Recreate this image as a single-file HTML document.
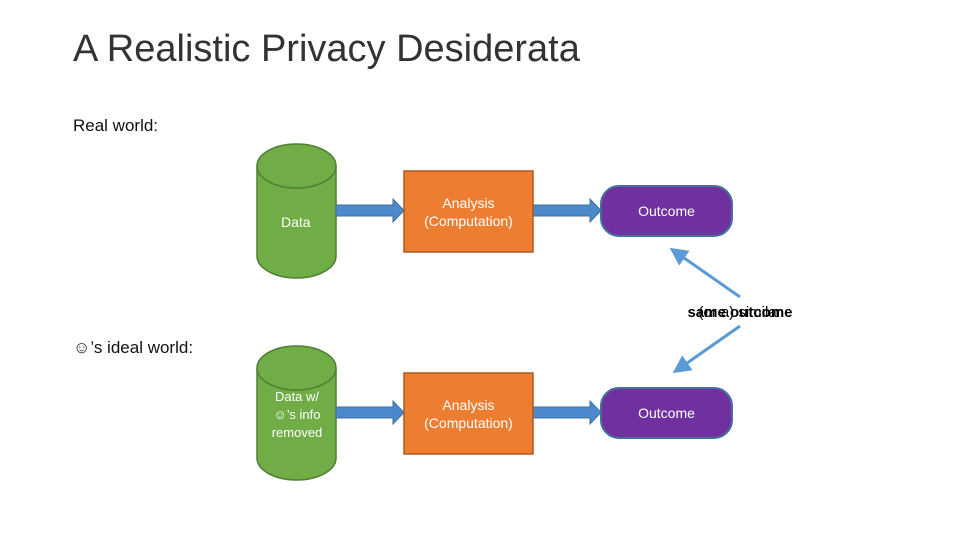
<!DOCTYPE html>
<html><head><style>
body{margin:0;width:960px;height:540px;background:#fff;overflow:hidden;position:relative;font-family:"Liberation Sans",sans-serif}
.t{position:absolute;white-space:nowrap}
</style></head><body>
<div class="t" style="left:73px;top:28px;font-size:38px;color:#333;font-weight:300">A Realistic Privacy Desiderata</div>
<div class="t" style="left:73px;top:116px;font-size:17px;color:#111">Real world:</div>
<div class="t" style="left:73px;top:338px;font-size:17px;color:#111">☺’s ideal world:</div>
<svg width="960" height="540" style="position:absolute;left:0;top:0">
<defs>
<marker id="ah" markerWidth="6" markerHeight="6" refX="3" refY="3" orient="auto"><path d="M0,0L6,3L0,6z" fill="#5B9BD5"/></marker>
</defs>
<path d="M257,166 L257,256 A39.5,22 0 0 0 336,256 L336,166" fill="#70AD47" stroke="#507E32" stroke-width="1.5"/>
<ellipse cx="296.5" cy="166" rx="39.5" ry="22" fill="#70AD47" stroke="#507E32" stroke-width="1.5"/>
<path d="M257,368 L257,458 A39.5,22 0 0 0 336,458 L336,368" fill="#70AD47" stroke="#507E32" stroke-width="1.5"/>
<ellipse cx="296.5" cy="368" rx="39.5" ry="22" fill="#70AD47" stroke="#507E32" stroke-width="1.5"/>
<path d="M336,205 L393,205 L393,199 L404,210.5 L393,222 L393,216 L336,216z" fill="#4A89CC" stroke="#41719C"/>
<path d="M533,205 L590,205 L590,199 L601,210.5 L590,222 L590,216 L533,216z" fill="#4A89CC" stroke="#41719C"/>
<path d="M336,407 L393,407 L393,401 L404,412.5 L393,424 L393,418 L336,418z" fill="#4A89CC" stroke="#41719C"/>
<path d="M533,407 L590,407 L590,401 L601,412.5 L590,424 L590,418 L533,418z" fill="#4A89CC" stroke="#41719C"/>
<rect x="404" y="171" width="129" height="81" fill="#ED7D31" stroke="#AE5A21" stroke-width="1.5"/>
<rect x="404" y="373" width="129" height="81" fill="#ED7D31" stroke="#AE5A21" stroke-width="1.5"/>
<rect x="601" y="186" width="131" height="50" rx="18" fill="#7030A0" stroke="#41719C" stroke-width="2"/>
<rect x="601" y="388" width="131" height="50" rx="18" fill="#7030A0" stroke="#41719C" stroke-width="2"/>
<line x1="740" y1="297" x2="677" y2="253" stroke="#5B9BD5" stroke-width="3" marker-end="url(#ah)"/>
<line x1="740" y1="326" x2="680" y2="368" stroke="#5B9BD5" stroke-width="3" marker-end="url(#ah)"/>
</svg>
<div class="t" style="left:281px;top:214px;font-size:14px;color:#fff">Data</div>
<div class="t" style="left:267px;top:388px;width:60px;text-align:center;font-size:13px;line-height:18px;color:#fff;white-space:normal">Data w/☺’s info removed</div>
<div class="t" style="left:404px;top:194px;width:129px;text-align:center;font-size:14px;line-height:18px;color:#fff">Analysis<br>(Computation)</div>
<div class="t" style="left:404px;top:396px;width:129px;text-align:center;font-size:14px;line-height:18px;color:#fff">Analysis<br>(Computation)</div>
<div class="t" style="left:601px;top:203px;width:131px;text-align:center;font-size:14px;color:#fff">Outcome</div>
<div class="t" style="left:601px;top:405px;width:131px;text-align:center;font-size:14px;color:#fff">Outcome</div>
<div class="t" style="left:680px;top:304px;width:120px;text-align:center;font-size:15px;font-weight:bold;color:#000">same outcome</div>
<div class="t" style="left:680px;top:304px;width:120px;text-align:center;font-size:15px;color:#000">(or a) similar</div>
</body></html>
